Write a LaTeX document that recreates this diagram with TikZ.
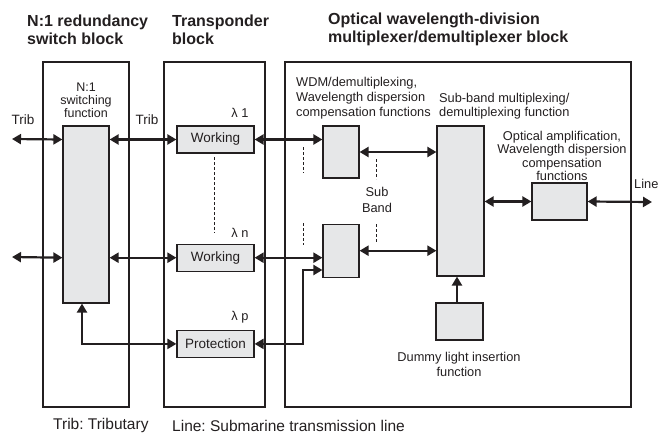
\documentclass[tikz,border=0pt]{standalone}
\usepackage{fontspec}
\setmainfont{Liberation Sans}
\usetikzlibrary{positioning,arrows.meta}
\definecolor{ink}{HTML}{231F20}
\definecolor{boxgray}{HTML}{E6E7E8}
\frenchspacing

\begin{document}
\begin{tikzpicture}[x=1pt,y=-1pt,text=ink,font=\fontsize{12.8}{14}\selectfont]
\tikzstyle{blk}=[draw=ink,line width=1.2pt]
\tikzstyle{fn}=[rectangle,draw=ink,fill=boxgray,line width=1.2pt,inner sep=0pt]
\tikzstyle{wk}=[fn,minimum width=77,minimum height=27,font=\fontsize{13.5}{15}\selectfont]
\tikzstyle{lbl}=[inner sep=0pt,align=center]
\tikzstyle{ttl}=[lbl,anchor=west,align=left,font=\fontsize{16}{18}\selectfont\bfseries]
\tikzstyle{bus}=[draw=ink,line width=2.2pt,arrows={Triangle[length=9pt,width=10pt]-Triangle[length=9pt,width=10pt]}]
\tikzstyle{feed}=[draw=ink,line width=2.2pt,arrows={-Triangle[length=9pt,width=10pt]}]
\tikzstyle{aux}=[draw=ink,line width=0.8pt,dash pattern=on 3pt off 2pt]
\useasboundingbox (0,0) rectangle (660,434);
% Block titles
\node[ttl] (t1) at (27,30) {N:1 redundancy\\switch block};
\node[ttl] (t2) at (172,30) {Transponder\\block};
\node[ttl] (t3) at (328,29) {Optical wavelength-division\\multiplexer/demultiplexer block};
% Block frames
\draw[blk] (43,62) rectangle (129,407);
\draw[blk] (164,62) rectangle (265,407);
\draw[blk] (285,62) rectangle (631,407);
% Function boxes
\node[fn,minimum width=46,minimum height=177] (sw) at (86,214.5) {};
\node[wk] (w1) at (215.5,139.5) {Working};
\node[wk,below=90pt of w1] (wn) {Working};
\node[wk,below=58pt of wn] (pr) {Protection};
\node[fn,minimum width=36,minimum height=52] (wdm1) at (341,152) {};
\node[fn,minimum width=36,minimum height=53,below=45pt of wdm1] (wdm2) {};
\node[fn,minimum width=47,minimum height=150] (sb) at (460.5,201) {};
\node[fn,minimum width=55,minimum height=37] (amp) at (559.5,201.5) {};
\node[fn,minimum width=47,minimum height=37] (dm) at (459.5,321.5) {};
% Labels
\node[lbl,font=\fontsize{12.5}{13}\selectfont] (swtxt) at (86,100) {N:1\\switching\\function};
\node[lbl,font=\fontsize{13.5}{15}\selectfont] (trib1) at (23,120) {Trib};
\node[lbl,font=\fontsize{13.5}{15}\selectfont] (trib2) at (147,120) {Trib};
\node[lbl] (lam1) at (240,113) {λ 1};
\node[lbl] (lamn) at (240,233) {λ n};
\node[lbl] (lamp) at (240,317) {λ p};
\node[lbl,anchor=west,align=left,font=\fontsize{12.8}{15}\selectfont] (wdmtxt) at (296,98) {WDM/demultiplexing,\\Wavelength dispersion\\compensation functions};
\node[lbl,anchor=west,align=left] (sbtxt) at (439,106) {Sub-band multiplexing/\\demultiplexing function};
\node[lbl,font=\fontsize{12.8}{13.3}\selectfont] (amptxt) at (562,156) {Optical amplification,\\Wavelength dispersion\\compensation\\functions};
\node[lbl,font=\fontsize{12.8}{16}\selectfont] (subband) at (377,200) {Sub\\Band};
\node[lbl,font=\fontsize{12.8}{15}\selectfont] (dmtxt) at (459,364.5) {Dummy light insertion\\function};
\node[lbl,anchor=west] (line) at (634,184) {Line};
\node[lbl,anchor=west,font=\fontsize{15.5}{18}\selectfont] (leg1) at (53,425.5) {Trib: Tributary};
\node[lbl,anchor=west,font=\fontsize{15.5}{18}\selectfont] (leg2) at (172,425.5) {Line: Submarine transmission line};
% Free ends
\coordinate (tin1) at (12,139);
\coordinate (tinn) at (12,257);
\coordinate (lout) at (652,202);
\coordinate (pj) at (303,270);
% Signal paths
\draw[bus] (tin1) -- (sw.west |- w1);
\draw[bus] (sw.east |- w1) -- (w1.west);
\draw[bus] (w1.east) -- (wdm1.west |- w1);
\draw[bus] (tinn) -- (sw.west |- wn);
\draw[bus] (sw.east |- wn) -- (wn.west);
\draw[bus] (wn.east) -- (wdm2.west |- wn);
\draw[bus] (pr.west) -| ([xshift=-4pt]sw.south);
\draw[bus] (pr.east) -| (pj) -- (wdm2.west |- pj);
\draw[bus] (wdm1.east) -- (sb.west |- wdm1.east);
\draw[bus] (wdm2.east) -- (sb.west |- wdm2.east);
\draw[bus] (sb.east |- amp) -- (amp.west);
\draw[bus] (amp.east) -- (lout);
\draw[feed] ([xshift=-2.5pt]dm.north) -- ([xshift=-2.5pt]dm.north |- sb.south);
% Omitted channels (dashed)
\draw[aux] (214,157) -- (214,233);
\draw[aux] (303,147) -- (303,173);
\draw[aux] (303,223) -- (303,245);
\draw[aux] (376,159) -- (376,179);
\draw[aux] (376,224) -- (376,243);
\end{tikzpicture}
\end{document}
